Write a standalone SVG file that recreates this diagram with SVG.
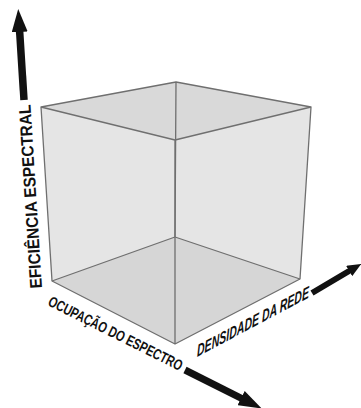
<svg xmlns="http://www.w3.org/2000/svg" width="361" height="408" viewBox="0 0 361 408">
  <style>
    .edge { fill: none; stroke: #6f6f6f; stroke-width: 1.3; stroke-linejoin: round; }
    .side { fill: #e5e5e5; }
    .top { fill: #d9d9d9; }
    .floor { fill: #d6d6d6; }
    .axis { stroke: #111; stroke-linecap: butt; fill: none; }
    .lbl { font-family: "Liberation Sans", Arial, sans-serif; fill: #111; font-weight: bold; }
  </style>
  <defs>
    <marker id="headL" markerUnits="userSpaceOnUse" viewBox="0 0 23 16" refX="1" refY="8" markerWidth="23" markerHeight="16" orient="auto">
      <path d="M0,0 L23,8 L0,16 Z" fill="#111"/>
    </marker>
    <marker id="headS" markerUnits="userSpaceOnUse" viewBox="0 0 14 12" refX="1" refY="6" markerWidth="14" markerHeight="12" orient="auto">
      <path d="M0,0 L14,6 L0,12 Z" fill="#111"/>
    </marker>
  </defs>
  <rect width="361" height="408" fill="#ffffff"/>

  <g id="cube">
    <polygon class="side" points="41,107 175,140 175,344 52,281"/>
    <polygon class="side" points="175,140 311,107 300,279 175,344"/>
    <polygon class="floor" points="52,281 175,237 300,279 175,344"/>
    <polygon class="top" points="41,107 176,82 311,107 175,140"/>
    <path class="edge" d="M176,82 L175,237 M52,281 L175,237 L300,279"/>
    <path class="edge" d="M41,107 L176,82 L311,107 L175,140 Z M175,140 L175,344 M41,107 L52,281 L175,344 L300,279 L311,107"/>
  </g>

  <g id="connectors">
    <line class="axis" x1="24" y1="100" x2="19.6" y2="31" stroke-width="7.5" marker-end="url(#headL)"/>
    <line class="axis" x1="185" y1="370" x2="242" y2="398.6" stroke-width="7" marker-end="url(#headL)"/>
    <line class="axis" x1="312" y1="293" x2="350" y2="270.5" stroke-width="6" marker-end="url(#headS)"/>
  </g>

  <g id="label-eficiencia">
    <text class="lbl" transform="translate(42,288) rotate(-93.6)" x="0" y="0" font-size="17" textLength="184" lengthAdjust="spacingAndGlyphs">EFICIÊNCIA ESPECTRAL</text>
  </g>
  <g id="label-ocupacao">
    <text class="lbl" transform="translate(47,305) rotate(26.5)" x="0" y="0" font-size="15" textLength="148" lengthAdjust="spacingAndGlyphs">OCUPAÇÃO DO ESPECTRO</text>
  </g>
  <g id="label-densidade">
    <text class="lbl" transform="translate(197,357) skewY(-28)" x="0" y="0" font-size="17" font-style="italic" textLength="112" lengthAdjust="spacingAndGlyphs">DENSIDADE DA REDE</text>
  </g>
</svg>
